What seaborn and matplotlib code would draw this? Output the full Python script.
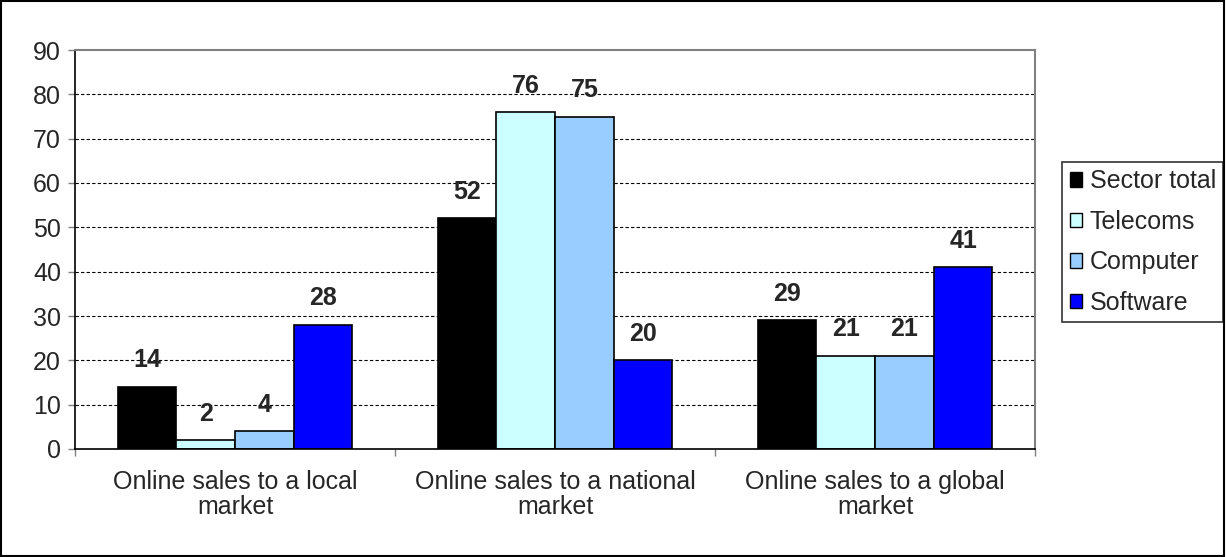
import matplotlib
matplotlib.use("Agg")
import matplotlib.pyplot as plt
import matplotlib.patches as mpatches
import seaborn as sns
import pandas as pd

categories = ["Online sales to a local\nmarket",
              "Online sales to a national\nmarket",
              "Online sales to a global\nmarket"]
series = ["Sector total", "Telecoms", "Computer", "Software"]
sector_total = [14, 52, 29]
telecoms = [2, 76, 21]
computer = [4, 75, 21]
software = [28, 20, 41]
colors = ["#000000", "#CCFFFF", "#99CCFF", "#0000FF"]
y_ticks = [0, 10, 20, 30, 40, 50, 60, 70, 80, 90]

rows = []
for name, vals in zip(series, [sector_total, telecoms, computer, software]):
    for cat, v in zip(categories, vals):
        rows.append({"category": cat, "series": name, "value": v})
df = pd.DataFrame(rows)

sns.set_theme(style="white")
plt.rcParams["font.family"] = ["Liberation Sans", "DejaVu Sans"]
FS = 18

fig = plt.figure(figsize=(12.26, 5.57), dpi=100)
ax = fig.add_axes([75 / 1226, 1 - 449 / 557, (1035 - 75) / 1226, (449 - 50) / 557])

sns.barplot(data=df, x="category", y="value", hue="series", order=categories,
            hue_order=series, palette=colors, width=0.734, gap=0,
            edgecolor="black", linewidth=1.2, saturation=1, legend=False, ax=ax)

ax.set_xlim(-0.5, 2.5)
ax.set_ylim(0, 90)
ax.set_yticks(y_ticks)
ax.set_xlabel("")
ax.set_ylabel("")

# dashed gridlines
for y in y_ticks[1:-1]:
    ax.axhline(y, color="black", linestyle=(0, (3, 2)), linewidth=0.8, zorder=0)

for side in ["left", "bottom"]:
    ax.spines[side].set_color("black")
    ax.spines[side].set_linewidth(1.2)
for side in ["top", "right"]:
    ax.spines[side].set_color("#808080")
    ax.spines[side].set_linewidth(1.5)

ax.tick_params(axis="y", which="major", left=True, length=5, width=1, color="#808080",
               labelsize=FS, pad=5)
ax.tick_params(axis="x", which="major", bottom=False, labelsize=FS, pad=9)
ax.set_xticks([0, 1, 2])
ax.set_xticklabels(categories, linespacing=1.08)
ax.set_xticks([-0.5, 0.5, 1.5, 2.5], minor=True)
ax.tick_params(axis="x", which="minor", bottom=True, length=5, width=1, color="#808080")

# value labels
for container in ax.containers:
    for bar in container:
        h = bar.get_height()
        ax.annotate(f"{h:.0f}", (bar.get_x() + bar.get_width() / 2, h),
                    xytext=(0, 14), textcoords="offset points",
                    ha="center", va="baseline", fontsize=FS, fontweight="bold")

handles = [mpatches.Patch(facecolor=c, edgecolor="black", linewidth=1) for c in colors]
leg = fig.legend(handles, series, loc="upper left",
                 bbox_to_anchor=(1062 / 1226, 1 - 162 / 557), fontsize=FS,
                 frameon=True, fancybox=False, edgecolor="black", handlelength=0.5,
                 handleheight=0.5, handletextpad=0.3, labelspacing=0.66,
                 borderpad=0.3, borderaxespad=0)
leg.get_frame().set_linewidth(1.2)

# outer frame
fig.patches.append(mpatches.Rectangle((0.0005, 0.001), 0.998, 0.997, transform=fig.transFigure,
                                      fill=False, edgecolor="black", linewidth=1.5))

fig.savefig("out.png", dpi=100)
